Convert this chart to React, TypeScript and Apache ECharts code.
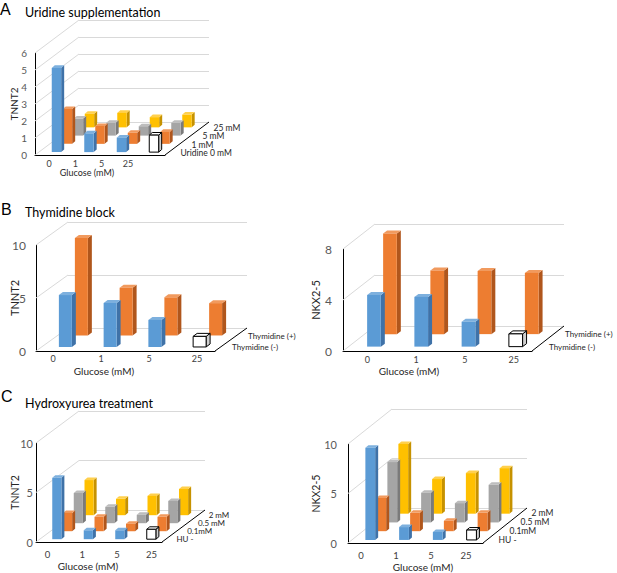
import React, { useEffect, useRef } from "react";
import * as echarts from "echarts";

// ---------- data ----------
const glucose = ["0", "1", "5", "25"];
const uridineRows = ["Uridine 0 mM", "1 mM", "5 mM", "25 mM"];
const thymidineRows = ["Thymidine (-)", "Thymidine (+)"];
const huRows = ["HU -", "0.1mM", "0.5 mM", "2 mM"];

// A: Uridine supplementation (TNNT2)
const aUridine0 = [4.95, 1.1, 0.85, 1.0];
const aUridine1 = [2.05, 1.05, 0.65, 0.7];
const aUridine5 = [1.0, 0.75, 0.55, 0.75];
const aUridine25 = [0.8, 0.85, 0.6, 0.75];
const aTicks = [0, 1, 2, 3, 4, 5, 6];

// B: Thymidine block
const bTnntMinus = [4.9, 4.15, 2.55, 1.0];
const bTnntPlus = [9.2, 4.5, 3.6, 3.05];
const bTnntTicks = [0, 5, 10];
const bNkxMinus = [4.05, 3.9, 1.95, 1.0];
const bNkxPlus = [7.9, 5.0, 4.95, 4.8];
const bNkxTicks = [0, 4, 8];

// C: Hydroxyurea treatment
const cTnntHU = [6.2, 0.9, 0.9, 1.0];
const cTnnt01 = [1.85, 1.45, 0.75, 1.45];
const cTnnt05 = [3.05, 1.65, 0.85, 2.25];
const cTnnt2 = [3.55, 1.65, 1.95, 2.65];
const cNkxHU = [9.3, 1.3, 0.8, 1.0];
const cNkx01 = [3.35, 1.85, 1.05, 1.85];
const cNkx05 = [6.1, 3.0, 1.95, 3.8];
const cNkx2 = [7.05, 3.5, 4.1, 4.6];
const cTicks = [0, 5, 10];

const CONTROL_GLUCOSE = "25";

// ---------- styles ----------
const FONT = "Lato, 'Open Sans', sans-serif";
const palette = [
  { front: "#5B9BD5", side: "#3F72A8", top: "#7DB0DE" },
  { front: "#ED7D31", side: "#B0561C", top: "#F19A5E" },
  { front: "#A5A5A5", side: "#7A7A7A", top: "#BDBDBD" },
  { front: "#FFC000", side: "#C69200", top: "#FFD04D" },
];
const controlStyle = { front: "#FFFFFF", side: "#D0D0D0", top: "#FFFFFF" };

type Panel = {
  rows: string[];
  series: number[][];
  ticks: number[];
  yName: string;
  grid: { left: number; top: number; width: number; height: number };
  depth: [number, number];
  ext: [number, number];
  lab: { left: number; width: number; y: number };
  nameGap: number;
  tickMargin: number;
  tickFont: number;
  xFont: number;
  nameFont: number;
  depthFont: number;
  depthLine: number;
  depthOff: [number, number];
};

const panels: Panel[] = [
  {
    rows: uridineRows,
    series: [aUridine0, aUridine1, aUridine5, aUridine25],
    ticks: aTicks,
    yName: "TNNT2",
    grid: { left: 35, top: 53, width: 130, height: 102 },
    depth: [44, -33],
    ext: [3, -2.6],
    lab: { left: 36, width: 105, y: 163 },
    nameGap: 16,
    tickMargin: 8,
    tickFont: 10,
    xFont: 9,
    nameFont: 10,
    depthFont: 8.5,
    depthLine: 8,
    depthOff: [10, 2],
  },
  {
    rows: thymidineRows,
    series: [bTnntMinus, bTnntPlus],
    ticks: bTnntTicks,
    yName: "TNNT2",
    grid: { left: 36, top: 245, width: 179, height: 106 },
    depth: [32, -23],
    ext: [4, -3],
    lab: { left: 29, width: 192, y: 358 },
    nameGap: 16,
    tickMargin: 10,
    tickFont: 12,
    xFont: 9,
    nameFont: 11,
    depthFont: 8,
    depthLine: 10,
    depthOff: [9, 2],
  },
  {
    rows: thymidineRows,
    series: [bNkxMinus, bNkxPlus],
    ticks: bNkxTicks,
    yName: "NKX2-5",
    grid: { left: 343, top: 249, width: 189, height: 102 },
    depth: [32, -25],
    ext: [4, -3],
    lab: { left: 343, width: 195, y: 359 },
    nameGap: 22,
    tickMargin: 11,
    tickFont: 12,
    xFont: 9,
    nameFont: 11,
    depthFont: 8,
    depthLine: 10,
    depthOff: [9, 2],
  },
  {
    rows: huRows,
    series: [cTnntHU, cTnnt01, cTnnt05, cTnnt2],
    ticks: cTicks,
    yName: "TNNT2",
    grid: { left: 36, top: 443, width: 126, height: 99 },
    depth: [43, -32],
    ext: [3, -2.5],
    lab: { left: 30, width: 139, y: 554 },
    nameGap: 16,
    tickMargin: 3,
    tickFont: 11,
    xFont: 9.5,
    nameFont: 10.5,
    depthFont: 8,
    depthLine: 7.5,
    depthOff: [9, 1],
  },
  {
    rows: huRows,
    series: [cNkxHU, cNkx01, cNkx05, cNkx2],
    ticks: cTicks,
    yName: "NKX2-5",
    grid: { left: 348, top: 444, width: 135, height: 99 },
    depth: [44, -35],
    ext: [3, -2.5],
    lab: { left: 343.5, width: 140, y: 555 },
    nameGap: 27,
    tickMargin: 11,
    tickFont: 11,
    xFont: 9.5,
    nameFont: 10.5,
    depthFont: 8.5,
    depthLine: 8,
    depthOff: [10, 1],
  },
];

function buildOption() {
  const grid: any[] = [];
  const xAxis: any[] = [];
  const yAxis: any[] = [];
  const series: any[] = [];

  panels.forEach((p, k) => {
    const max = p.ticks[p.ticks.length - 1];
    const interval = p.ticks[1] - p.ticks[0];
    const nRows = p.rows.length;
    const stepX = p.depth[0] / nRows;
    const stepY = p.depth[1] / nRows;
    const gFront = 3 * k;
    const gBack = 3 * k + 1;
    const gLab = 3 * k + 2;

    grid.push({ ...p.grid, containLabel: false, outerBoundsMode: "none" });
    grid.push({
      left: p.grid.left + p.depth[0],
      top: p.grid.top + p.depth[1],
      width: p.grid.width,
      height: p.grid.height,
      containLabel: false,
      outerBoundsMode: "none",
    });
    grid.push({ left: p.lab.left, top: p.lab.y - 1, width: p.lab.width, height: 1, containLabel: false, outerBoundsMode: "none" });

    xAxis.push({
      gridIndex: gFront,
      type: "category",
      data: glucose,
      axisLine: { show: true, lineStyle: { color: "#000", width: 1 } },
      axisTick: { show: false },
      axisLabel: { show: false },
      splitLine: { show: false },
    });
    xAxis.push({ gridIndex: gBack, type: "category", data: glucose, show: false });
    xAxis.push({
      gridIndex: gLab,
      type: "category",
      data: glucose,
      axisLine: { show: false },
      axisTick: { show: false },
      splitLine: { show: false },
      axisLabel: {
        margin: 0,
        verticalAlign: "middle",
        fontSize: p.xFont,
        color: "#404040",
        fontFamily: FONT,
      },
    });

    yAxis.push({
      gridIndex: gFront,
      type: "value",
      min: 0,
      max,
      interval,
      axisLine: { show: true, lineStyle: { color: "#000", width: 1 } },
      axisTick: { show: false },
      splitLine: { show: false },
      axisLabel: { margin: p.tickMargin, fontSize: p.tickFont, color: "#595959", fontFamily: FONT },
      name: p.yName,
      nameLocation: "middle",
      nameRotate: 90,
      nameGap: p.nameGap,
      nameMoveOverlap: false,
      nameTextStyle: { fontSize: p.nameFont, color: "#262626", fontFamily: FONT },
    });
    yAxis.push({
      gridIndex: gBack,
      type: "value",
      min: 0,
      max,
      interval,
      axisLine: { show: false },
      axisTick: { show: false },
      axisLabel: { show: false },
      splitLine: { show: true, lineStyle: { color: "#D9D9D9", width: 1 } },
    });
    yAxis.push({ gridIndex: gLab, type: "value", show: false });

    // side wall grid lines + depth axis line
    series.push({
      type: "custom",
      xAxisIndex: gFront,
      yAxisIndex: gFront,
      silent: true,
      z: 1,
      data: p.ticks.map((v) => [0, v]),
      renderItem: (params: any, api: any) => {
        const cs = params.coordSys;
        const v = api.value(1);
        const y = api.coord([0, v])[1];
        const children: any[] = [
          {
            type: "line",
            shape: { x1: cs.x, y1: y, x2: cs.x + p.depth[0], y2: y + p.depth[1] },
            style: { stroke: "#D9D9D9", lineWidth: 1 },
          },
        ];
        if (params.dataIndex === 0) {
          const bx = cs.x + cs.width;
          const by = cs.y + cs.height;
          children.push({
            type: "line",
            shape: { x1: bx, y1: by, x2: bx + p.depth[0], y2: by + p.depth[1] },
            style: { stroke: "#000", lineWidth: 1 },
          });
        }
        return { type: "group", children };
      },
    });

    // bars, back row first
    const barData: number[][] = [];
    for (let r = nRows - 1; r >= 0; r--) {
      p.series[r].forEach((v, gi) => barData.push([gi, r, v]));
    }
    series.push({
      type: "custom",
      xAxisIndex: gFront,
      yAxisIndex: gFront,
      silent: true,
      z: 3,
      encode: { x: 0, y: 2 },
      data: barData,
      renderItem: (params: any, api: any) => {
        const gi = api.value(0);
        const r = api.value(1);
        const v = api.value(2);
        const base = api.coord([gi, 0]);
        const topPt = api.coord([gi, v]);
        const band = api.size([1, 0])[0];
        const h = base[1] - topPt[1];
        const w = band * 0.29;
        const x = base[0] + r * stepX + 0.5;
        const yb = base[1] + (r + 0.35) * stepY;
        const yt = yb - h;
        const [ex, ey] = p.ext;
        const isControl = r === 0 && glucose[gi] === CONTROL_GLUCOSE;
        const c = isControl ? controlStyle : palette[r];
        const stroke = isControl ? "#000" : undefined;
        const lw = isControl ? 1 : 0;
        return {
          type: "group",
          children: [
            {
              type: "polygon",
              shape: { points: [[x + w, yt], [x + w + ex, yt + ey], [x + w + ex, yb + ey], [x + w, yb]] },
              style: { fill: c.side, stroke, lineWidth: lw },
            },
            {
              type: "polygon",
              shape: { points: [[x, yt], [x + ex, yt + ey], [x + w + ex, yt + ey], [x + w, yt]] },
              style: { fill: c.top, stroke, lineWidth: lw },
            },
            {
              type: "rect",
              shape: { x, y: yt, width: w, height: h },
              style: { fill: c.front, stroke, lineWidth: lw },
            },
          ],
        };
      },
    });

    // depth axis labels
    series.push({
      type: "custom",
      xAxisIndex: gFront,
      yAxisIndex: gFront,
      silent: true,
      z: 4,
      data: p.rows.map((_, r) => [r, 0]),
      renderItem: (params: any, api: any) => {
        const cs = params.coordSys;
        const r = api.value(0);
        const x = cs.x + cs.width + (r + 0.5) * stepX + p.depthOff[0];
        const y = cs.y + cs.height + (r + 0.5) * stepY + p.depthOff[1];
        return {
          type: "text",
          x,
          y,
          style: {
            text: p.rows[r],
            fill: "#262626",
            fontSize: p.depthFont,
            lineHeight: p.depthLine,
            fontFamily: FONT,
            align: "left",
            verticalAlign: "middle",
          },
        };
      },
    });
  });

  const letter = (t: string, x: number, y: number) => ({
    type: "text",
    x,
    y,
    style: { text: t, fill: "#000", fontSize: 16, fontFamily: "'Liberation Sans', Arial, sans-serif", verticalAlign: "middle" },
  });
  const title = (t: string, x: number, y: number) => ({
    type: "text",
    x,
    y,
    style: { text: t, fill: "#000", fontSize: 12.5, fontFamily: FONT, verticalAlign: "middle" },
  });
  const gl = (x: number, y: number, size: number) => ({
    type: "text",
    x,
    y,
    style: { text: "Glucose (mM)", fill: "#262626", fontSize: size, fontFamily: FONT, align: "center", verticalAlign: "middle" },
  });

  return {
    animation: false,
    backgroundColor: "#fff",
    grid,
    xAxis,
    yAxis,
    series,
    graphic: [
      letter("A", 0, 9),
      title("Uridine supplementation", 25, 12),
      letter("B", 1, 209),
      title("Thymidine block", 25, 212),
      letter("C", 1, 396),
      title("Hydroxyurea treatment", 25, 403),
      gl(87, 172.5, 9),
      gl(104, 371, 10),
      gl(409, 371, 10),
      gl(88, 565.5, 10),
      gl(423, 567, 10),
    ],
  };
}

export default function App() {
  const ref = useRef<HTMLDivElement>(null);
  useEffect(() => {
    if (!ref.current) return;
    const chart = echarts.init(ref.current, undefined, { renderer: "svg" });
    chart.setOption(buildOption() as any);
    return () => chart.dispose();
  }, []);
  return (
    <div
      ref={ref}
      style={{ position: "fixed", left: 0, top: 0, width: 617, height: 573, background: "#fff" }}
    />
  );
}
